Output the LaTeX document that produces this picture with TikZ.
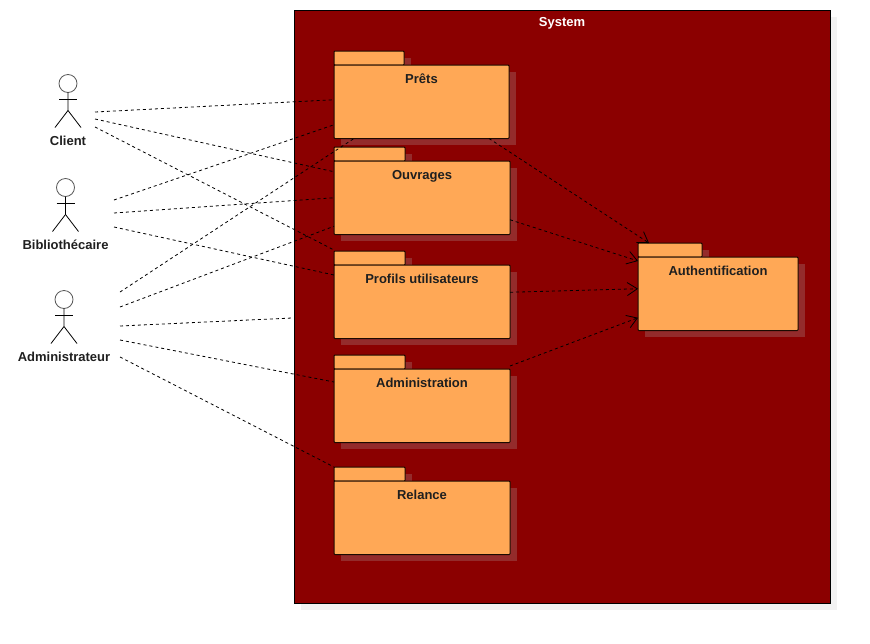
\documentclass[tikz,border=0pt]{standalone}
\usepackage{fontspec}
\setmainfont{Liberation Sans}
\usetikzlibrary{calc,arrows.meta}
\definecolor{sysred}{HTML}{8B0000}
\definecolor{pkgorange}{HTML}{FFA856}
\definecolor{pkgshadow}{HTML}{942B2B}
\definecolor{sysshadow}{HTML}{F2F2F2}
\definecolor{pkgline}{HTML}{1C0A00}
\tikzset{
	pkgbody/.style={draw=pkgline, fill=pkgorange, line width=1pt, rounded corners=0.8pt, anchor=north west, inner sep=0pt, outer sep=0pt},
	pkgtext/.style={font=\bfseries\fontsize{13}{15}\selectfont, text=black!88, text height=9pt, text depth=2.5pt, inner sep=0pt},
	actortext/.style={pkgtext},
	assoc/.style={black, line width=0.8pt, dash pattern=on 3pt off 3pt},
	depend/.style={assoc, -{Straight Barb[length=10pt,width=13pt,line width=0.8pt]}},
}
% name, x, y of tab top, body width, tab width, text
\newcommand{\pkgbox}[6]{
	\fill[pkgshadow] (#2+7, #3+7) rectangle (#2+#5+7, #3+21);
	\fill[pkgshadow] (#2+7, #3+21) rectangle (#2+#4+7, #3+94);
	\draw[pkgbody, fill=pkgorange] (#2, #3) rectangle (#2+#5, #3+14);
	\node[pkgbody, minimum width=#4pt, minimum height=73.5pt] (#1) at (#2, #3+14) {};
	\node[pkgtext] (#1text) at ($(#1.north)+(0, 14.75)$) {#6};
}
% name, x, y of head centre, text
\newcommand{\actorman}[4]{
	\node[draw=black!65, circle, minimum size=18pt, inner sep=0pt, outer sep=0pt, line width=0.8pt] (#1head) at (#2, #3) {};
	\draw[line width=0.8pt] (#1head.south) -- (#2, #3+27) -- (#2-13, #3+44);
	\draw[line width=0.8pt] (#2, #3+27) -- (#2+13, #3+44);
	\draw[line width=0.8pt] (#2-9, #3+15.5) -- (#2+9, #3+15.5);
	\node[actortext] (#1) at (#2, #3+58.5) {#4};
}

\begin{document}
\begin{tikzpicture}[x=1pt, y=-1pt]
	\useasboundingbox (0, 0) rectangle (870, 643);

	%%%%% SYSTEM %%%%%
	\fill[sysshadow] (301, 17) rectangle (837, 610);
	\draw[fill=sysred, line width=0.9pt] (294, 10) rectangle (830, 603);
	\node[pkgtext, text=white] (system) at (562, 23.5) {System};

	%%%%% PACKAGES %%%%%
	\pkgbox{prets}{334}{51}{175}{70}{Prêts}
	\pkgbox{ouvrages}{334}{147}{176}{71}{Ouvrages}
	\pkgbox{profils}{334}{251}{176}{71}{Profils utilisateurs}
	\pkgbox{admin}{334}{355}{176}{71}{Administration}
	\pkgbox{relance}{334}{467}{176}{71}{Relance}
	\pkgbox{auth}{638}{243}{160}{64}{Authentification}

	%%%%% ACTORS %%%%%
	\actorman{client}{68}{83.5}{Client}
	\actorman{biblio}{65.5}{187.5}{Bibliothécaire}
	\actorman{adminis}{64}{299.5}{Administrateur}

	%%%%% ASSOCIATIONS %%%%%
	\coordinate (clienta) at (95, 112);
	\coordinate (clientb) at (95, 119);
	\coordinate (clientc) at (95, 127);
	\coordinate (biblioa) at (114, 200);
	\coordinate (bibliob) at (114, 213);
	\coordinate (biblioc) at (114, 227);
	\coordinate (adminisa) at (120, 292);
	\coordinate (adminisb) at (120, 307);
	\coordinate (adminisc) at (120, 326);
	\coordinate (adminisd) at (120, 340);
	\coordinate (adminise) at (120, 357);
	\coordinate (sysedge) at (292, 318);

	\draw[assoc] (clienta) -- ($(prets.west)+(0, -2)$);
	\draw[assoc] (clientb) -- ($(ouvrages.west)+(0, -26)$);
	\draw[assoc] (clientc) -- ($(profils.north west)+(0, -15)$);

	\draw[assoc] (biblioa) -- ($(prets.west)+(0, 23)$);
	\draw[assoc] (bibliob) -- (ouvrages.west);
	\draw[assoc] (biblioc) -- ($(profils.north west)+(0, 10)$);

	\draw[assoc] (adminisa) -- ($(prets.south west)+(20, 0)$);
	\draw[assoc] (adminisb) -- ($(ouvrages.west)+(0, 28.5)$);
	\draw[assoc] (adminisc) -- (sysedge);
	\draw[assoc] (adminisd) -- ($(admin.north west)+(0, 13)$);
	\draw[assoc] (adminise) -- ($(relance.north west)+(0, -14)$);

	%%%%% DEPENDENCIES %%%%%
	\draw[depend] ($(prets.south east)+(-20, 0)$) -- ($(auth.north west)+(11, -14)$);
	\draw[depend] ($(ouvrages.east)+(0, 22)$) -- ($(auth.north west)+(0, 4)$);
	\draw[depend] ($(profils.east)+(0, -9.5)$) -- ($(auth.west)+(0, -5)$);
	\draw[depend] ($(admin.north east)+(0, -3)$) -- ($(auth.west)+(0, 24)$);
\end{tikzpicture}
\end{document}
